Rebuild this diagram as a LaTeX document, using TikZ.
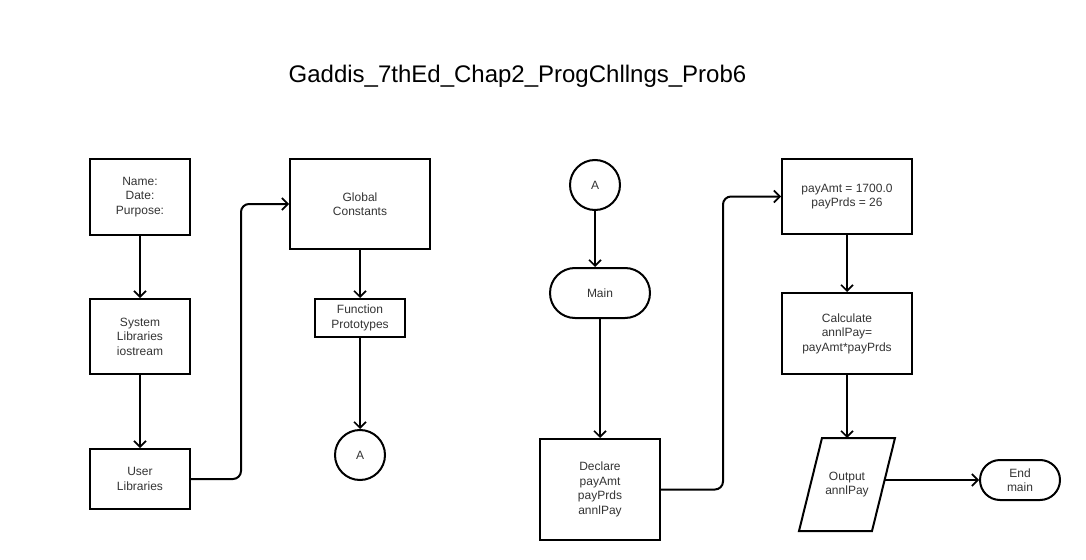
\documentclass[tikz,border=0pt]{standalone}
\usepackage{fontspec}
\setmainfont{Liberation Sans}
\usetikzlibrary{arrows.meta}

\definecolor{txtgray}{RGB}{51,51,51}

\tikzset{
  box/.style={draw, line width=1.5pt, align=center, inner sep=0.75pt, text=txtgray, font=\fontsize{9}{10.9}\selectfont},
  term/.style={box, rounded corners=#1},
  conn/.style={box, circle, minimum size=37.5pt},
  iobox/.style={box, draw=none, minimum width=53.25pt, minimum height=68.25pt},
  arr/.style={line width=1.5pt, -{Straight Barb[length=4.5pt, width=9pt, line width=1.2pt]}, rounded corners=6pt}
}

\begin{document}
\begin{tikzpicture}[x=0.75pt,y=0.75pt,yscale=-1,xscale=1]
\useasboundingbox (0,0) rectangle (1086,560);

% Title
\node (title) at (517.5,76) [font=\fontsize{18}{21}\selectfont] {Gaddis\_7thEd\_Chap2\_ProgChllngs\_Prob6};

%Shape: Rectangle
\node (header) at (140,197) [box, minimum width=75pt, minimum height=57pt] {Name:\\Date:\\Purpose:};
\node (syslib) at (140,336.5) [box, minimum width=75pt, minimum height=56.25pt] {System\\Libraries\\iostream};
\node (usrlib) at (140,479) [box, minimum width=75pt, minimum height=45pt] {User\\Libraries};
\node (global) at (360,204) [box, minimum width=105pt, minimum height=67.5pt] {Global\\Constants};
\node (protos) at (360,318) [box, minimum width=67.5pt, minimum height=28.5pt] {Function\\Prototypes};
%Shape: Circle
\node (connL) at (360,455) [conn] {A};
\node (connR) at (595,185) [conn] {A};
%Shape: Terminal
\node (main) at (600,293) [term=18.75pt, minimum width=75pt, minimum height=37.5pt] {Main};
\node (declare) at (600,489.5) [box, minimum width=90pt, minimum height=75.75pt] {Declare\\payAmt\\payPrds\\annlPay};
\node (init) at (847,196.5) [box, minimum width=97.5pt, minimum height=56.25pt] {payAmt = 1700.0\\payPrds = 26};
\node (calc) at (847,333.5) [box, minimum width=97.5pt, minimum height=60.75pt] {Calculate\\annlPay=\\payAmt*payPrds};
%Shape: Parallelogram
\node (output) at (847,484.5) [iobox] {Output\\annlPay};
\draw [line width=1.5pt] ([xshift=-8.625pt]output.south west) -- ([xshift=-8.625pt]output.south east)
  -- ([xshift=8.625pt]output.north east) -- ([xshift=8.625pt]output.north west) -- cycle;
\node (endmain) at (1020,480) [term=15pt, minimum width=60pt, minimum height=30pt] {End\\main};

%Straight Lines
\draw [arr] (header) -- (syslib);
\draw [arr] (syslib) -- (usrlib);
\draw [arr] (usrlib.east) -- ++(50,0) |- (global.west);
\draw [arr] (global) -- (protos);
\draw [arr] (protos) -- (connL);
\draw [arr] (connR.south) -- (connR.south |- main.north);
\draw [arr] (main) -- (declare);
\draw [arr] (declare.east) -- ++(62,0) |- (init.west);
\draw [arr] (init) -- (calc);
\draw [arr] (calc) -- (output);
\draw [arr] (output.east |- endmain) -- (endmain);

\end{tikzpicture}
\end{document}
